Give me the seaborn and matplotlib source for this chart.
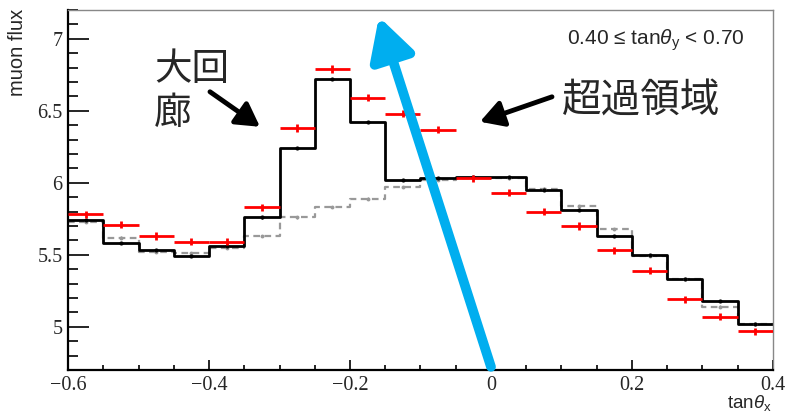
import numpy as np
import pandas as pd
import matplotlib
matplotlib.use("Agg")
import matplotlib.pyplot as plt
from matplotlib.ticker import MultipleLocator, FixedLocator, FixedFormatter
import seaborn as sns

# ---------------- data ----------------
bin_edges = [-0.60, -0.55, -0.50, -0.45, -0.40, -0.35, -0.30, -0.25, -0.20, -0.15, -0.10,
             -0.05, 0.00, 0.05, 0.10, 0.15, 0.20, 0.25, 0.30, 0.35, 0.40]
sim_solid = [5.74, 5.58, 5.53, 5.49, 5.56, 5.76, 6.24, 6.72, 6.42, 6.02,
             6.03, 6.04, 6.04, 5.95, 5.81, 5.63, 5.50, 5.33, 5.18, 5.02]
sim_dashed = [5.73, 5.62, 5.52, 5.51, 5.55, 5.63, 5.76, 5.83, 5.89, 5.97,
              6.02, 6.03, 6.03, 5.96, 5.84, 5.68, 5.49, 5.33, 5.14, 5.02]
data_red = [5.78, 5.71, 5.63, 5.59, 5.59, 5.83, 6.38, 6.79, 6.59, 6.48,
            6.37, 6.03, 5.93, 5.80, 5.70, 5.53, 5.39, 5.19, 5.07, 4.97]
data_err = [0.025] * 20
sim_err = [0.008] * 20

x_ticks = [-0.6, -0.4, -0.2, 0.0, 0.2, 0.4]
x_ticklabels = ["\u22120.6", "\u22120.4", "\u22120.2", "0", "0.2", "0.4"]
y_ticks = [5.0, 5.5, 6.0, 6.5, 7.0]
y_ticklabels = ["5", "5.5", "6", "6.5", "7"]

edges = np.array(bin_edges)
centers = (edges[:-1] + edges[1:]) / 2
half_w = np.diff(edges) / 2
df = pd.DataFrame({"x": centers, "solid": sim_solid, "dashed": sim_dashed,
                   "data": data_red})

# ---------------- style ----------------
sns.set_style("ticks")
plt.rcParams["font.family"] = ["Liberation Sans", "DejaVu Sans"]
plt.rcParams["mathtext.fontset"] = "custom"
plt.rcParams["mathtext.rm"] = "Liberation Sans"
plt.rcParams["mathtext.it"] = "Liberation Sans:italic"

fig = plt.figure(figsize=(7.89, 4.13), dpi=100)
ax = fig.add_axes([0.0862, 0.1041, 0.8935, 0.8717])

# histograms
sns.histplot(data=df, x="x", weights="dashed", bins=list(bin_edges), element="step",
             fill=False, color="#999999", linewidth=1.6, linestyle=(0, (3, 2)), ax=ax)
sns.histplot(data=df, x="x", weights="solid", bins=list(bin_edges), element="step",
             fill=False, color="black", linewidth=2.0, ax=ax)
ax.errorbar(centers, sim_dashed, yerr=sim_err, fmt="o", ms=1.8, color="#999999",
            elinewidth=1, capsize=0)
ax.errorbar(centers, sim_solid, yerr=sim_err, fmt="o", ms=2.0, color="black",
            elinewidth=1, capsize=0)
# red data points
ax.errorbar(centers, data_red, xerr=half_w, yerr=data_err, fmt="none",
            ecolor="#ff0000", elinewidth=2.0, capsize=0, zorder=5)

ax.set_xlim(-0.6, 0.4)
ax.set_ylim(4.70, 7.20)

# ticks
ax.xaxis.set_major_locator(FixedLocator(x_ticks))
ax.xaxis.set_major_formatter(FixedFormatter(x_ticklabels))
ax.xaxis.set_minor_locator(MultipleLocator(0.05))
ax.yaxis.set_major_locator(FixedLocator(y_ticks))
ax.yaxis.set_major_formatter(FixedFormatter(y_ticklabels))
ax.yaxis.set_minor_locator(MultipleLocator(0.1))
ax.tick_params(axis="both", which="both", direction="in", width=1.2, color="black",
               top=False, right=False)
ax.tick_params(axis="y", which="major", length=15, pad=4)
ax.tick_params(axis="y", which="minor", length=7)
ax.tick_params(axis="x", which="major", length=7, pad=4)
ax.tick_params(axis="x", which="minor", length=3.6)
for lab in ax.get_xticklabels() + ax.get_yticklabels():
    lab.set_fontfamily("Liberation Serif")
    lab.set_fontsize(14.5)

for s in ["left", "bottom"]:
    ax.spines[s].set_color("black")
    ax.spines[s].set_linewidth(1.6)
for s in ["top", "right"]:
    ax.spines[s].set_visible(True)
    ax.spines[s].set_color("#888888")
    ax.spines[s].set_linewidth(1.0)

ax.set_xlabel("")
ax.set_ylabel("")
fig.text(0.978, 0.0, r"tan$\theta_{\mathrm{x}}$", ha="right", va="bottom", fontsize=13.5)
fig.text(0.022, 0.978, "muon flux", rotation=90, ha="center", va="top", fontsize=14.5)

ax.text(0.834, 0.917, "0.40 \u2264 tan$\\theta_{\\mathrm{y}}$ < 0.70", transform=ax.transAxes,
        ha="center", va="center", fontsize=15)

# annotations
jp = ["Noto Sans CJK JP", "DejaVu Sans"]
ax.text(0.122, 0.889, "大回\n廊", transform=ax.transAxes, ha="left", va="top",
        fontsize=27, family=jp, fontweight="normal", linespacing=1.15)
ax.text(0.7007, 0.745, "超過領域", transform=ax.transAxes, ha="left", va="center",
        fontsize=28.5, family=jp, fontweight="normal")

black_arrow = dict(arrowstyle="-|>,head_length=0.7,head_width=0.4", color="black",
                   lw=3.5, mutation_scale=20, shrinkA=0, shrinkB=0)
ax.annotate("", xy=(-0.3277, 6.389), xytext=(-0.3986, 6.632), arrowprops=black_arrow)
ax.annotate("", xy=(-0.0156, 6.424), xytext=(0.0865, 6.597), arrowprops=black_arrow)

ax.annotate("", xy=(-0.159, 7.153), xytext=(0.0, 4.722),
            arrowprops=dict(arrowstyle="-|>,head_length=0.55,head_width=0.3",
                            color="#00AEEF", lw=7, mutation_scale=45,
                            shrinkA=0, shrinkB=0), zorder=10)

fig.savefig("out.png", dpi=100)
